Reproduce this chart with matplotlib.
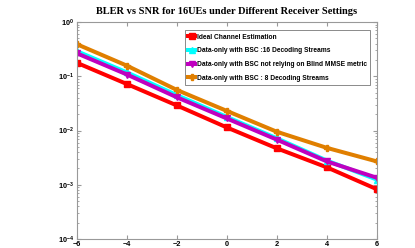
"""
BLER vs SNR for 16 UEs under different receiver settings.
"""
import matplotlib
matplotlib.use("Agg")
import matplotlib.pyplot as plt
from matplotlib.ticker import LogLocator, FixedLocator

# Data
snr_db = [-6, -4, -2, 0, 2, 4, 6]
bler_ideal = [0.177, 0.072, 0.029, 0.0114, 0.0047, 0.0021, 0.00083]
bler_bsc16 = [0.29, 0.118, 0.045, 0.0178, 0.0072, 0.0028, 0.00125]
bler_no_mmse = [0.265, 0.108, 0.041, 0.0167, 0.0068, 0.0027, 0.00135]
bler_bsc8 = [0.39, 0.157, 0.056, 0.023, 0.0095, 0.0048, 0.0027]

series_labels = [
    "Ideal Channel Estimation",
    "Data-only with BSC :16 Decoding Streams",
    "Data-only with BSC not relying on Blind MMSE metric",
    "Data-only with BSC : 8 Decoding Streams",
]
x_ticks = [-6, -4, -2, 0, 2, 4, 6]

fig = plt.figure(figsize=(4.15, 2.48), dpi=100)
ax = fig.add_axes([0.1855, 0.036, 0.7225, 0.875])

lw = 2.9
ax.plot(snr_db, bler_ideal, color="#ff0000", marker="s", ms=4.5, lw=lw,
        label=series_labels[0])
ax.plot(snr_db, bler_bsc16, color="#00ffff", marker="^", ms=4.5, lw=lw,
        label=series_labels[1])
ax.plot(snr_db, bler_no_mmse, color="#bf00bf", marker="v", ms=4.5, lw=lw,
        label=series_labels[2])
ax.plot(snr_db, bler_bsc8, color="#e07f00", marker="P", ms=4.5, lw=lw,
        label=series_labels[3])

ax.set_yscale("log")
ax.set_xlim(-6, 6)
ax.set_ylim(1e-4, 1)
ax.xaxis.set_major_locator(FixedLocator(x_ticks))
ax.yaxis.set_major_locator(LogLocator(base=10, numticks=10))
ax.yaxis.set_minor_locator(LogLocator(base=10, subs=range(2, 10), numticks=10))

# MATLAB-like look: gray box, ticks inside on all sides
for sp in ax.spines.values():
    sp.set_color("#999999")
    sp.set_linewidth(0.8)
ax.tick_params(which="both", direction="in", top=True, right=True,
               color="#999999", labelsize=5.3)
ax.tick_params(axis="x", pad=1.2)
ax.tick_params(axis="y", pad=2)
ax.tick_params(which="major", length=3)
ax.tick_params(which="minor", length=1.5)
for lab in ax.get_xticklabels() + ax.get_yticklabels():
    lab.set_fontweight("bold")
    lab.set_family("Liberation Sans")

ax.set_title("BLER vs SNR for 16UEs under Different Receiver Settings",
             family="Liberation Serif", fontweight="bold", fontsize=7.5, pad=6)

leg = ax.legend(loc="upper right", bbox_to_anchor=(0.988, 0.978),
                prop={"family": "Liberation Sans", "weight": "bold", "size": 4.8},
                handlelength=1.1, handletextpad=0.2, borderpad=0.5,
                labelspacing=1.0, fancybox=False, framealpha=1)
leg.get_frame().set_edgecolor("#777777")
leg.get_frame().set_linewidth(0.6)

fig.savefig("out.png", dpi=100)
